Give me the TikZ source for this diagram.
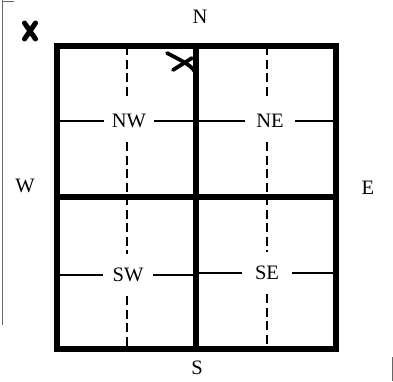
\documentclass[tikz,border=0pt]{standalone}
\usepackage{fontspec}
\setmainfont{Liberation Serif}
\begin{document}
\begin{tikzpicture}[x=1pt,y=-1pt,
  frame/.style={line width=5.2pt},
  thinline/.style={line width=2.6pt},
  dashline/.style={line width=2.3pt, dash pattern=on 9pt off 4.5pt},
  cell/.style={inner sep=0pt, minimum width=50pt, minimum height=42pt, font=\fontsize{20.5}{20.5}\selectfont},
  compass/.style={inner sep=0pt, font=\fontsize{20.5}{20.5}\selectfont},
  xstroke/.style={line width=5pt, line cap=round},
  scanline/.style={line width=0.8pt, black!60}]
\useasboundingbox (0,0) rectangle (393,381);
% scan edges
\draw[scanline] (2,0) -- (2,325) (2,1) -- (14,1);
\draw[scanline] (392,357) -- (392,381);
% compass labels
\node[compass] (N) at (200,17) {N};
\node[compass] (S) at (197,368) {S};
\node[compass] (W) at (25,186) {W};
\node[compass] (E) at (368,188) {E};
% quadrant labels
\node[cell] (NW) at (129,121) {NW};
\node[cell] (NE) at (270,121) {NE};
\node[cell] (SW) at (128,275) {SW};
\node[cell] (SE) at (267,273) {SE};
% frame coordinates
\coordinate (tl) at (57,46);
\coordinate (br) at (336,349);
\coordinate (dL) at (127,46);
\coordinate (dR) at (267,46);
\coordinate (bL) at (127,349);
\coordinate (bR) at (267,349);
% thin horizontal lines
\draw[thinline] (57,0 |- NW.west) -- (NW.west);
\draw[thinline] (NW.east) -- (196,0 |- NW.east);
\draw[thinline] (196,0 |- NE.west) -- (NE.west);
\draw[thinline] (NE.east) -- (336,0 |- NE.east);
\draw[thinline] (57,0 |- SW.west) -- (SW.west);
\draw[thinline] (SW.east) -- (196,0 |- SW.east);
\draw[thinline] (196,0 |- SE.west) -- (SE.west);
\draw[thinline] (SE.east) -- (336,0 |- SE.east);
% dashed verticals
\draw[dashline] (dL) -- (dL |- NW.north);
\draw[dashline] (dL |- NW.south) -- (dL |- SW.north);
\draw[dashline] (dL |- SW.south) -- (bL);
\draw[dashline] (dR) -- (dR |- NE.north);
\draw[dashline] (dR |- NE.south) -- (dR |- SE.north);
\draw[dashline] (dR |- SE.south) -- (bR);
% frame
\draw[frame] (tl) rectangle (br);
\draw[frame] (196,46) -- (196,349);
\draw[frame] (57,197) -- (336,197);
% X marks
\draw[xstroke] (24.5,23) -- (35.5,39) (35.5,23) -- (24.5,39);
\draw[line width=3.8pt, line cap=round] (167,53) .. controls (184,62) and (193,66) .. (196,74);
\draw[line width=3.8pt, line cap=round] (173,70) -- (192,58);
\end{tikzpicture}
\end{document}
